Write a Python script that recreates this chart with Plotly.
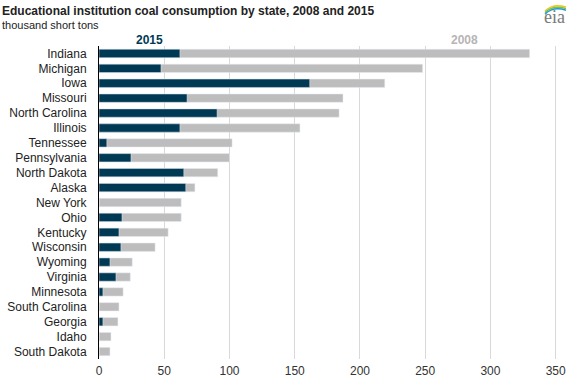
import plotly.graph_objects as go

states = ["Indiana", "Michigan", "Iowa", "Missouri", "North Carolina", "Illinois",
          "Tennessee", "Pennsylvania", "North Dakota", "Alaska", "New York", "Ohio",
          "Kentucky", "Wisconsin", "Wyoming", "Virginia", "Minnesota", "South Carolina",
          "Georgia", "Idaho", "South Dakota"]
v2008 = [330, 248, 219, 187, 184, 154, 102, 100, 91, 73.5, 63, 63,
         53, 43, 25.5, 24, 18.5, 15.3, 14.5, 9.2, 8.4]
v2015 = [62, 47.5, 161.5, 67.5, 90.5, 62, 6, 24.5, 65, 66.5, 0, 17.6,
         15.3, 16.8, 8.4, 13, 3, 0, 3, 0, 0]
xticks = [0, 50, 100, 150, 200, 250, 300, 350]

DARK = "#003953"
GRAY = "#bdbdbd"
FONT = "Liberation Sans, Arial, sans-serif"

fig = go.Figure()
fig.add_trace(go.Bar(y=states, x=v2008, orientation="h", marker_color=GRAY,
                     width=0.56, name="2008", hoverinfo="x+y"))
fig.add_trace(go.Bar(y=states, x=v2015, orientation="h", marker_color=DARK,
                     width=0.56, name="2015", hoverinfo="x+y"))

fig.update_layout(
    width=569, height=382,
    margin=dict(l=99, r=12, t=46, b=23),
    barmode="overlay",
    showlegend=False,
    plot_bgcolor="white", paper_bgcolor="white",
    font=dict(family=FONT, size=12, color="#222"),
    xaxis=dict(range=[0, 351], tickvals=xticks, showgrid=True, gridcolor="#d9d9d9",
               gridwidth=1, zeroline=False, showline=False, ticks="", automargin=False,
               ticklabelstandoff=3, tickfont=dict(size=12, color="#333")),
    yaxis=dict(categoryorder="array", categoryarray=states[::-1], showline=True,
               linecolor="black", linewidth=1, ticks="", ticklabelstandoff=9,
               automargin=False, tickfont=dict(size=12, color="#222"), showgrid=False),
    annotations=[
        dict(text="<b>Educational institution coal consumption by state, 2008 and 2015</b>",
             xref="paper", yref="paper", x=-99/458, y=1, yshift=46-2, xanchor="left",
             yanchor="top", showarrow=False, font=dict(size=12, color="#222", family=FONT),
             xshift=0),
        dict(text="thousand short tons", xref="paper", yref="paper", x=-99/458, y=1,
             yshift=46-17, xanchor="left", yanchor="top", showarrow=False, xshift=0,
             font=dict(size=11, color="#222", family=FONT)),
        dict(text="<b>2015</b>", xref="x", yref="paper", x=39, y=1, yshift=-3,
             xanchor="center", yanchor="bottom", showarrow=False,
             font=dict(size=12, color=DARK, family=FONT)),
        dict(text="<b>2008</b>", xref="x", yref="paper", x=280, y=1, yshift=-3,
             xanchor="center", yanchor="bottom", showarrow=False,
             font=dict(size=12, color="#b5b5b5", family=FONT)),
        dict(text="eia", xref="paper", yref="paper", x=1, y=1, yshift=46-5,
             xshift=10, xanchor="right", yanchor="top", showarrow=False,
             font=dict(size=18, color="#7a7a7a", family="Liberation Serif, serif")),
    ],
)

# eia logo arcs (paper coords via pixel conversion)
def px(x, y):
    return ((x - 99) / 458, (382 - 23 - y) / 313)

arcs = [("#f5c518", 0), ("#7cc242", 1.6), ("#1f9ad6", 3.2)]
for color, off in arcs:
    x0, y0 = px(545, 11 + off)
    x1, y1 = px(553, 3 + off)
    x2, y2 = px(566, 7 + off)
    fig.add_shape(type="path", xref="paper", yref="paper",
                  path=f"M {x0},{y0} Q {x1},{y1} {x2},{y2}",
                  line=dict(color=color, width=1.5))

fig.write_html("out.html", config={"displayModeBar": False},
               post_script="document.body.style.margin='0';document.body.style.padding='0';")
